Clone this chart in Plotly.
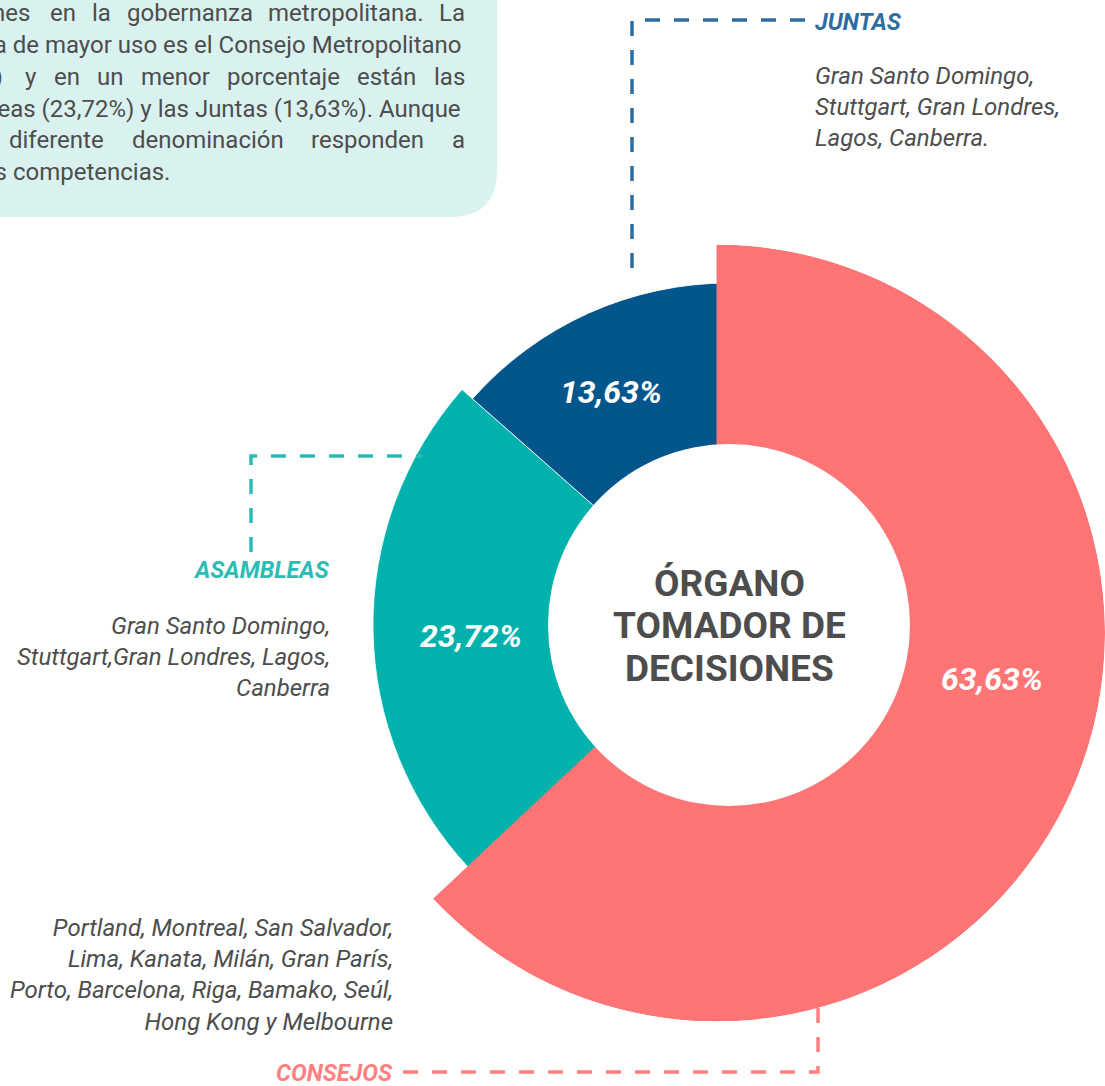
import plotly.graph_objects as go
import numpy as np

# ---- data ----
categories = ["CONSEJOS", "ASAMBLEAS", "JUNTAS"]
percentages = [63.63, 23.72, 13.63]
pct_labels = ["63,63%", "23,72%", "13,63%"]
members = [
    ["Portland, Montreal, San Salvador,", "Lima, Kanata, Milán, Gran París,",
     "Porto, Barcelona, Riga, Bamako, Seúl,", "Hong Kong y Melbourne"],
    ["Gran Santo Domingo,", "Stuttgart,Gran Londres, Lagos,", "Canberra"],
    ["Gran Santo Domingo,", "Stuttgart, Gran Londres,", "Lagos, Canberra."],
]
center_title = ["ÓRGANO", "TOMADOR DE", "DECISIONES"]

# ---- style ----
W, H = 1105, 1086
FONT = "Roboto"
GRAY = "#4D4D4D"
slice_colors = ["#FF7474", "#00B2AB", "#02568C"]
label_colors = ["#FF8080", "#2BBDB5", "#2E6DA0"]
outer_r = [390, 356, 342]


def px(x):
    return x / W


def py(y):
    return 1 - y / H


# angular layout (clockwise from 12 o'clock)
shares = np.array(percentages) / np.sum(percentages) * 360
starts = np.concatenate([[0], np.cumsum(shares)[:-1]])
centers = starts + shares / 2

fig = go.Figure()

# teal + navy ring (lower layer)
fig.add_trace(go.Barpolar(
    r=outer_r[1:], theta=centers[1:], width=shares[1:],
    marker=dict(color=slice_colors[1:], line=dict(color="white", width=0.8)),
    subplot="polar", hoverinfo="skip",
))
# red slice (upper layer, slightly larger and offset)
fig.add_trace(go.Barpolar(
    r=outer_r[:1], theta=centers[:1], width=shares[:1],
    marker=dict(color=slice_colors[:1], line=dict(width=0)),
    subplot="polar2", hoverinfo="skip",
))

hidden_angular = dict(visible=False, direction="clockwise", rotation=90)
fig.update_layout(
    polar=dict(
        domain=dict(x=[px(369), px(1089)], y=[py(985), py(265)]),
        radialaxis=dict(visible=False, range=[0, 360]),
        angularaxis=hidden_angular,
        bgcolor="rgba(0,0,0,0)",
    ),
    polar2=dict(
        domain=dict(x=[px(328), 1.0], y=[py(1021.5), py(244.5)]),
        radialaxis=dict(visible=False, range=[0, 390]),
        angularaxis=hidden_angular,
        bgcolor="rgba(0,0,0,0)",
    ),
)

shapes = []
# donut hole
shapes.append(dict(type="circle", xref="paper", yref="paper", layer="above",
                   x0=px(729 - 181), x1=px(729 + 181), y0=py(625 + 181), y1=py(625 - 181),
                   fillcolor="white", line=dict(width=0)))
# text box with rounded corner
path = (f"M {px(-20)},{py(-20)} L {px(497)},{py(-20)} L {px(497)},{py(170)} "
        f"Q {px(497)},{py(217)} {px(450)},{py(217)} L {px(-20)},{py(217)} Z")
shapes.append(dict(type="path", xref="paper", yref="paper", layer="below", path=path,
                   fillcolor="#D9F2F0", line=dict(width=0)))


def dashed(points, color):
    d = "M " + " L ".join(f"{px(x)},{py(y)}" for x, y in points)
    return dict(type="path", xref="paper", yref="paper", path=d, layer="above",
                line=dict(color=color, width=3.5, dash="15px,14px"))


shapes.append(dashed([(632, 268), (632, 20), (810, 20)], label_colors[2]))
shapes.append(dashed([(251, 552), (251, 456), (422, 456)], label_colors[1]))
shapes.append(dashed([(403, 1072), (818, 1072), (818, 1008)], label_colors[0]))
fig.update_layout(shapes=shapes)

ann = []


def text(x, y, s, size, color=GRAY, xanchor="center", bold=False, italic=False):
    ann.append(dict(x=px(x), y=py(y), xref="paper", yref="paper", text=s, showarrow=False,
                    xanchor=xanchor, yanchor="middle",
                    align={"left": "left", "right": "right"}.get(xanchor, "center"),
                    font=dict(family=FONT, size=size, color=color,
                              weight="bold" if bold else "normal",
                              style="italic" if italic else "normal")))


# box text (justified, cut at the left edge)
box_lines = [
    (13, [("funciones", 32, "right"), ("en", 48, "left"), ("la", 90, "left"),
          ("gobernanza", 125, "left"), ("metropolitana.", 266, "left"), ("La", 437, "left")]),
    (45, [("figura de mayor uso es el Consejo Metropolitano", 463, "right")]),
    (77, [("(63,63%)", 5, "right"), ("y", 23, "left"), ("en", 52, "left"), ("un", 95, "left"),
          ("menor", 139, "left"), ("porcentaje", 225, "left"), ("están", 355, "left"),
          ("las", 432, "left")]),
    (109, [("Asambleas (23,72%) y las Juntas (13,63%). Aunque", 463, "right")]),
    (140, [("diferente", 7, "left"), ("denominación", 130, "left"),
           ("responden", 309, "left"), ("a", 450, "left")]),
    (172, [("las mismas competencias.", 172, "right")]),
]
for y, words in box_lines:
    for w, x, anchor in words:
        text(x, y, w, 24, xanchor=anchor)

# percentage labels
pct_pos = [(992, 679), (471, 636), (611, 392)]
for (x, y), lab in zip(pct_pos, pct_labels):
    text(x, y, lab, 32, color="white", bold=True, italic=True)

# center title
for y, line in zip([583, 625, 668], center_title):
    text(729, y, line, 37, bold=True)

# category labels and member lists
text(395, 1073, categories[0], 23.5, color=label_colors[0], xanchor="right", bold=True, italic=True)
text(395, 975, "<br>".join(members[0]), 24, xanchor="right", italic=True)
text(332, 570, categories[1], 23.5, color=label_colors[1], xanchor="right", bold=True, italic=True)
text(332, 657, "<br>".join(members[1]), 24, xanchor="right", italic=True)
text(813, 22, categories[2], 23.5, color=label_colors[2], xanchor="left", bold=True, italic=True)
text(813, 107, "<br>".join(members[2]), 24, xanchor="left", italic=True)

fig.update_layout(
    annotations=ann,
    width=W, height=H,
    margin=dict(l=0, r=0, t=0, b=0),
    paper_bgcolor="white",
    plot_bgcolor="white",
    showlegend=False,
)

fig.write_html(
    "out.html",
    config={"displayModeBar": False},
    post_script="document.body.style.margin='0px';document.body.style.overflow='hidden';",
)
